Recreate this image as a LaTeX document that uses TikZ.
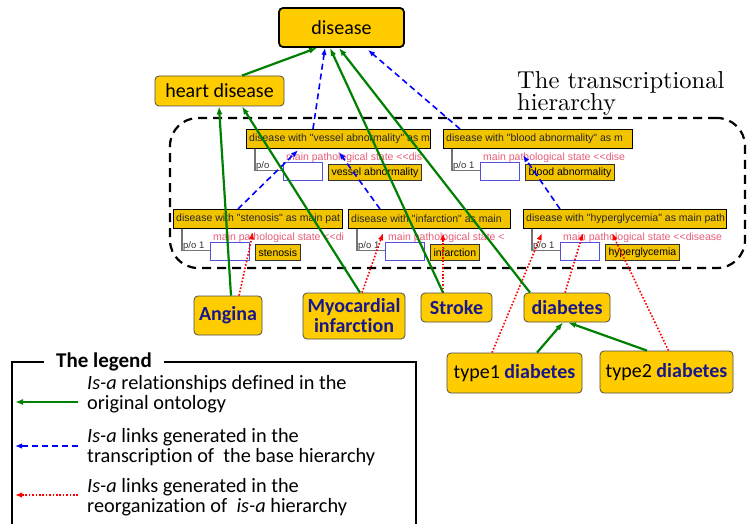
\documentclass[tikz,border=0pt]{standalone}
\usepackage{fontspec}
\usepackage{xcolor}
\usepackage{tikz}
\usetikzlibrary{arrows.meta}

\newfontfamily\calibri[Ligatures=NoCommon]{Carlito}
\newfontfamily\arial{Liberation Sans}
\newfontfamily\lmten{lmroman10-regular.otf}

\definecolor{gold}{RGB}{255,204,0}
\definecolor{hdrgold}{RGB}{242,196,0}
\definecolor{navy}{RGB}{24,24,140}
\definecolor{isagreen}{RGB}{0,128,0}
\definecolor{pathpink}{RGB}{230,92,118}
\definecolor{slotblue}{RGB}{80,80,220}

% one class frame of the transcriptional hierarchy
\newcommand{\classframe}[8]{%
  \node[hdr, minimum width=#4pt, anchor=north west] (#1) at (#2,#3) {};
  \begin{scope}
    \clip (#1.north west) rectangle ([yshift=-17pt]#1.south east);
    \node[hdrtext, anchor=west] (#1txt) at ([xshift=3pt]#1.west) {#5};
    \node[pathtext, anchor=west] (#1path) at ([xshift=40pt,yshift=-9pt]#1.south west) {#6};
  \end{scope}
  \draw[poline] ([xshift=9pt]#1.south west) |- ([xshift=37pt,yshift=-21pt]#1.south west);
  \node[potext, anchor=base west] (#1po) at ([xshift=10pt,yshift=-19pt]#1.south west) {#7};
  \node[slot, anchor=north west] (#1slot) at ([xshift=37pt,yshift=-13pt]#1.south west) {};
  \node[valbox, anchor=north west] (#1val) at ([xshift=82pt,yshift=-15pt]#1.south west) {#8};
}

\begin{document}
\begin{tikzpicture}[
        x=1pt, y=-1pt,
        mainbox/.style={draw=black!70, fill=gold, rounded corners=4pt, inner sep=0pt,
            line width=0.8pt, font=\calibri\fontsize{20}{20}\selectfont},
        kind/.style={mainbox, text=navy, align=center,
            font=\calibri\bfseries\fontsize{20}{20}\selectfont},
        hdr/.style={draw=black, fill=hdrgold, line width=1.2pt, minimum height=19pt, inner sep=0pt},
        hdrtext/.style={font=\arial\fontsize{10.5}{12}\selectfont, text=black!85, inner sep=0pt},
        pathtext/.style={font=\arial\fontsize{10.5}{12}\selectfont, text=pathpink, inner sep=0pt},
        potext/.style={font=\arial\fontsize{9.5}{11}\selectfont, text=black!80, inner sep=0pt},
        poline/.style={draw=black!55, line width=1.1pt},
        slot/.style={draw=slotblue, fill=white, line width=1pt, minimum width=39pt, minimum height=18pt, inner sep=0pt},
        valbox/.style={draw=black!80, fill=hdrgold, line width=1pt, minimum height=16pt, inner xsep=3pt, inner ysep=0pt,
            font=\arial\fontsize{10.5}{12}\selectfont},
        region/.style={draw=black, line width=2.2pt, dash pattern=on 9pt off 6pt, rounded corners=28pt},
        isa/.style={draw=isagreen, line width=2.2pt, -{Latex[length=8pt,width=6pt]}},
        trans/.style={draw=blue, line width=1.6pt, dash pattern=on 6pt off 4pt, -{Latex[length=7pt,width=5.5pt]}},
        reorg/.style={draw=red, line width=1.6pt, dash pattern=on 1.6pt off 1.8pt, -{Latex[length=7pt,width=5.5pt]}},
        legendtext/.style={anchor=west, align=left, inner sep=0pt, font=\calibri\fontsize{20.3}{20}\selectfont},
        ]
        \useasboundingbox (0,0) rectangle (747,524);

        % transcriptional hierarchy
        \node[region, minimum width=575pt, minimum height=150pt] (hierregion) at (457.5,193) {};
        \node[anchor=north west, align=left, inner sep=0pt, font=\lmten\fontsize{24.5}{19}\selectfont]
            (hiertitle) at (517,71) {The transcriptional\\hierarchy};

        \classframe{hvessel}{246}{129}{184}{disease with "vessel abnormality" as m}{main pathological state <<dis}{p/o}{vessel abnormality}
        \classframe{hblood}{443}{129}{189}{disease with "blood abnormality" as m}{main pathological state <<dise}{p/o 1}{blood abnormality}
        \classframe{hsten}{173}{209}{169}{disease with "stenosis" as main pat}{main pathological state <<di}{p/o 1}{stenosis}
        \classframe{hinf}{348}{209}{162}{disease with "infarction" as main}{main pathological state <}{p/o 1}{infarction}
        \classframe{hhyper}{523}{209}{203}{disease with "hyperglycemia" as main path}{main pathological state <<disease}{p/o 1}{hyperglycemia}

        % original ontology
        \node[mainbox, draw=black, line width=1.8pt, minimum width=125pt, minimum height=39pt] (disease) at (341.5,27.5) {disease};
        \node[mainbox, minimum width=129pt, minimum height=30pt] (heartdisease) at (219.5,91) {heart disease};
        \node[kind, minimum width=68pt, minimum height=39pt] (angina) at (228,315.5) {Angina};
        \node[kind, minimum width=102pt, minimum height=46pt] (myocardial) at (354,316) {Myocardial\\infarction};
        \node[kind, minimum width=71pt, minimum height=29pt] (stroke) at (456.5,307.5) {Stroke};
        \node[kind, minimum width=86pt, minimum height=29pt] (diabetes) at (567,307.5) {diabetes};
        \node[mainbox, minimum width=135pt, minimum height=40pt] (typeone) at (514.5,373) {type1 \textcolor{navy}{\bfseries diabetes}};
        \node[mainbox, minimum width=133pt, minimum height=42pt] (typetwo) at (666.5,372) {type2 \textcolor{navy}{\bfseries diabetes}};

        % links of the transcription
        \draw[trans] ([xshift=67pt]hvessel.north west) -- ([xshift=-16.5pt]disease.south);
        \draw[trans] ([xshift=17pt]hblood.north west) -- ([xshift=26.5pt,yshift=-2pt]disease.south);
        \draw[trans] ([xshift=65pt]hsten.north west) -- ([xshift=52pt,yshift=-1pt]hvessel.south west);
        \draw[trans] ([xshift=32pt]hinf.north west) -- ([xshift=93pt,yshift=-3pt]hvessel.south west);
        \draw[trans] ([xshift=37pt]hhyper.north west) -- ([xshift=80pt,yshift=-6pt]hblood.south west);

        % links of the reorganization
        \draw[reorg] ([xshift=11pt]angina.north) -- ([xshift=80pt,yshift=-3pt]hsten.south west);
        \draw[reorg] ([xshift=8pt]myocardial.north) -- ([xshift=35pt,yshift=-4pt]hinf.south west);
        \draw[reorg] ([xshift=-13.5pt]stroke.north) -- ([xshift=95pt,yshift=-4pt]hinf.south west);
        \draw[reorg] ([xshift=-22.5pt]typeone.north) -- ([xshift=19pt,yshift=-4pt]hhyper.south west);
        \draw[reorg] ([xshift=-2pt]diabetes.north) -- ([xshift=60pt,yshift=-4pt]hhyper.south west);
        \draw[reorg] ([xshift=2pt]typetwo.north) -- ([xshift=89pt,yshift=-4pt]hhyper.south west);

        % is-a of the original ontology
        \draw[isa] ([xshift=22.5pt]heartdisease.north) -- ([xshift=-24.5pt]disease.south);
        \draw[isa] ([xshift=3pt]angina.north) -- ([xshift=-0.5pt]heartdisease.south);
        \draw[isa] ([xshift=6pt]myocardial.north) -- ([xshift=22.5pt]heartdisease.south);
        \draw[isa] ([xshift=-13.5pt]stroke.north) -- ([xshift=-11.5pt]disease.south);
        \draw[isa] ([xshift=-37pt]diabetes.north) -- ([xshift=-2.5pt]disease.south);
        \draw[isa] ([xshift=22.5pt]typeone.north) -- ([xshift=-4pt]diabetes.south);
        \draw[isa] ([xshift=-19.5pt]typetwo.north) -- ([xshift=1pt]diabetes.south);

        % legend
        \node[inner xsep=12pt, font=\calibri\bfseries\fontsize{21}{21}\selectfont] (legtitle) at (104,362) {The legend};
        \draw[line width=1.8pt] (legtitle.west) -| (12,530);
        \draw[line width=1.8pt] (legtitle.east) -| (416,530);

        \node[legendtext] (legisa) at (87,394.5) {\textit{Is-a} relationships defined in the\\original ontology};
        \node[legendtext] (legtrans) at (87,447) {\textit{Is-a} links generated in the\\transcription of~ the base hierarchy};
        \node[legendtext] (legreorg) at (87,497) {\textit{Is-a} links generated in the\\reorganization of~ \textit{is-a} hierarchy};
        \coordinate (isafrom) at (78,402);    \coordinate (isato) at (15,402);
        \coordinate (transfrom) at (78,446);  \coordinate (transto) at (15,446);
        \coordinate (reorgfrom) at (78,495);  \coordinate (reorgto) at (15,495);
        \draw[isa] (isafrom) -- (isato);
        \draw[trans] (transfrom) -- (transto);
        \draw[reorg] (reorgfrom) -- (reorgto);
    \end{tikzpicture}
\end{document}
